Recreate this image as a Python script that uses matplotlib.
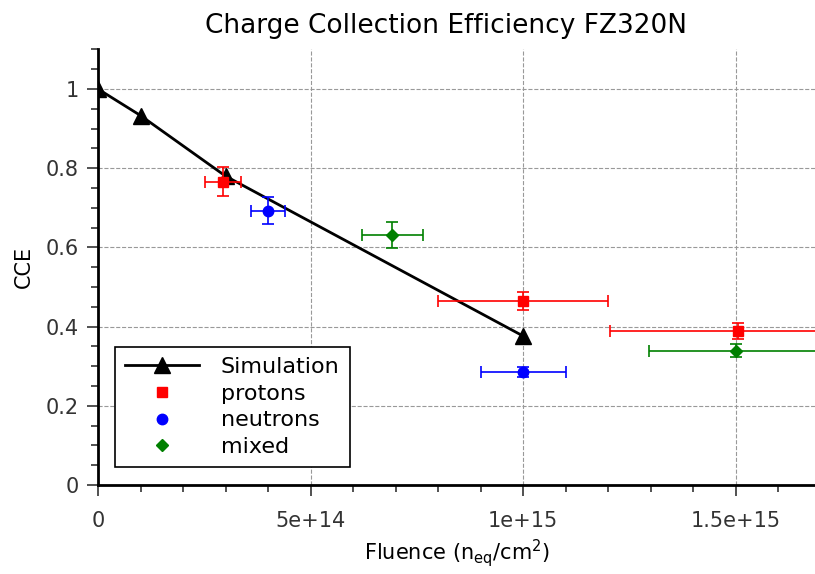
import matplotlib
matplotlib.use("Agg")
import matplotlib.pyplot as plt
from matplotlib.lines import Line2D
from matplotlib.ticker import MultipleLocator, FixedLocator, FixedFormatter

plt.rcParams["font.family"] = ["DejaVu Sans"]
plt.rcParams["mathtext.default"] = "regular"

# simulation curve
sim_x = [0, 1e14, 3e14, 1e15]
sim_y = [1.0, 0.933, 0.78, 0.376]

# measurements: value, x error, y error
prot_x = [2.94e14, 1.0e15, 1.505e15]
prot_y = [0.766, 0.464, 0.388]
prot_xerr = [0.042e15, 0.2e15, 0.3e15]
prot_yerr = [0.037, 0.023, 0.02]

neut_x = [4.0e14, 1.0e15]
neut_y = [0.693, 0.286]
neut_xerr = [0.04e15, 0.1e15]
neut_yerr = [0.035, 0.013]

mix_x = [6.92e14, 1.5e15]
mix_y = [0.631, 0.339]
mix_xerr = [0.072e15, 0.205e15]
mix_yerr = [0.032, 0.016]

xtick_pos = [0, 5e14, 1e15, 1.5e15]
xtick_lab = ["0", "5e+14", "1e+15", "1.5e+15"]
ytick_pos = [0, 0.2, 0.4, 0.6, 0.8, 1.0]
ytick_lab = ["0", "0.2", "0.4", "0.6", "0.8", "1"]

fig = plt.figure(figsize=(8.15, 5.74), dpi=100)
ax = fig.add_axes([98 / 815, 89 / 574, 717 / 815, 435.6 / 574])

ax.plot(sim_x, sim_y, "-^", color="black", lw=2, markersize=11, zorder=3)
ekw = dict(linestyle="none", capsize=4, elinewidth=1.2, capthick=1.2, zorder=4)
ax.errorbar(prot_x, prot_y, xerr=prot_xerr, yerr=prot_yerr, fmt="s",
            color="red", markersize=7, **ekw)
ax.errorbar(neut_x, neut_y, xerr=neut_xerr, yerr=neut_yerr, fmt="o",
            color="blue", markersize=7.5, **ekw)
ax.errorbar(mix_x, mix_y, xerr=mix_xerr, yerr=mix_yerr, fmt="D",
            color="green", markersize=6.5, **ekw)

ax.set_xlim(0, 1.686e15)
ax.set_ylim(0, 1.1)
ax.xaxis.set_major_locator(FixedLocator(xtick_pos))
ax.xaxis.set_major_formatter(FixedFormatter(xtick_lab))
ax.xaxis.set_minor_locator(MultipleLocator(1e14))
ax.yaxis.set_major_locator(FixedLocator(ytick_pos))
ax.yaxis.set_major_formatter(FixedFormatter(ytick_lab))
ax.yaxis.set_minor_locator(MultipleLocator(0.05))
ax.tick_params(which="major", length=8, width=1.2, labelsize=15, colors="#333333",
               labelcolor="#333333", pad=6)
ax.tick_params(which="minor", length=5, width=1.2, colors="#333333")
ax.tick_params(axis="x", pad=11)

ax.grid(True, which="major", color="#999999", linestyle="--", lw=0.8)
ax.set_axisbelow(True)
for s in ["top", "right"]:
    ax.spines[s].set_visible(False)
for s in ["left", "bottom"]:
    ax.spines[s].set_linewidth(2)

ax.set_title("Charge Collection Efficiency FZ320N", fontsize=19, pad=12, x=0.485)
ax.set_xlabel("Fluence (n$_{eq}$/cm$^2$)", fontsize=15, labelpad=4)
ax.set_ylabel("CCE", fontsize=15, labelpad=8)

handles = [
    Line2D([], [], color="black", lw=2, marker="^", markersize=11),
    Line2D([], [], color="red", lw=0, marker="s", markersize=7),
    Line2D([], [], color="blue", lw=0, marker="o", markersize=7.5),
    Line2D([], [], color="green", lw=0, marker="D", markersize=6.5),
]
leg = ax.legend(handles, ["Simulation", "protons", "neutrons", "mixed"],
                loc="lower left", bbox_to_anchor=(0.024, 0.041), fontsize=16,
                fancybox=False, framealpha=1, edgecolor="black",
                handlelength=3.3, labelspacing=0.3, borderpad=0.45,
                handletextpad=1.0, borderaxespad=0)
leg.get_frame().set_linewidth(1.2)

fig.savefig("out.png", dpi=100)
